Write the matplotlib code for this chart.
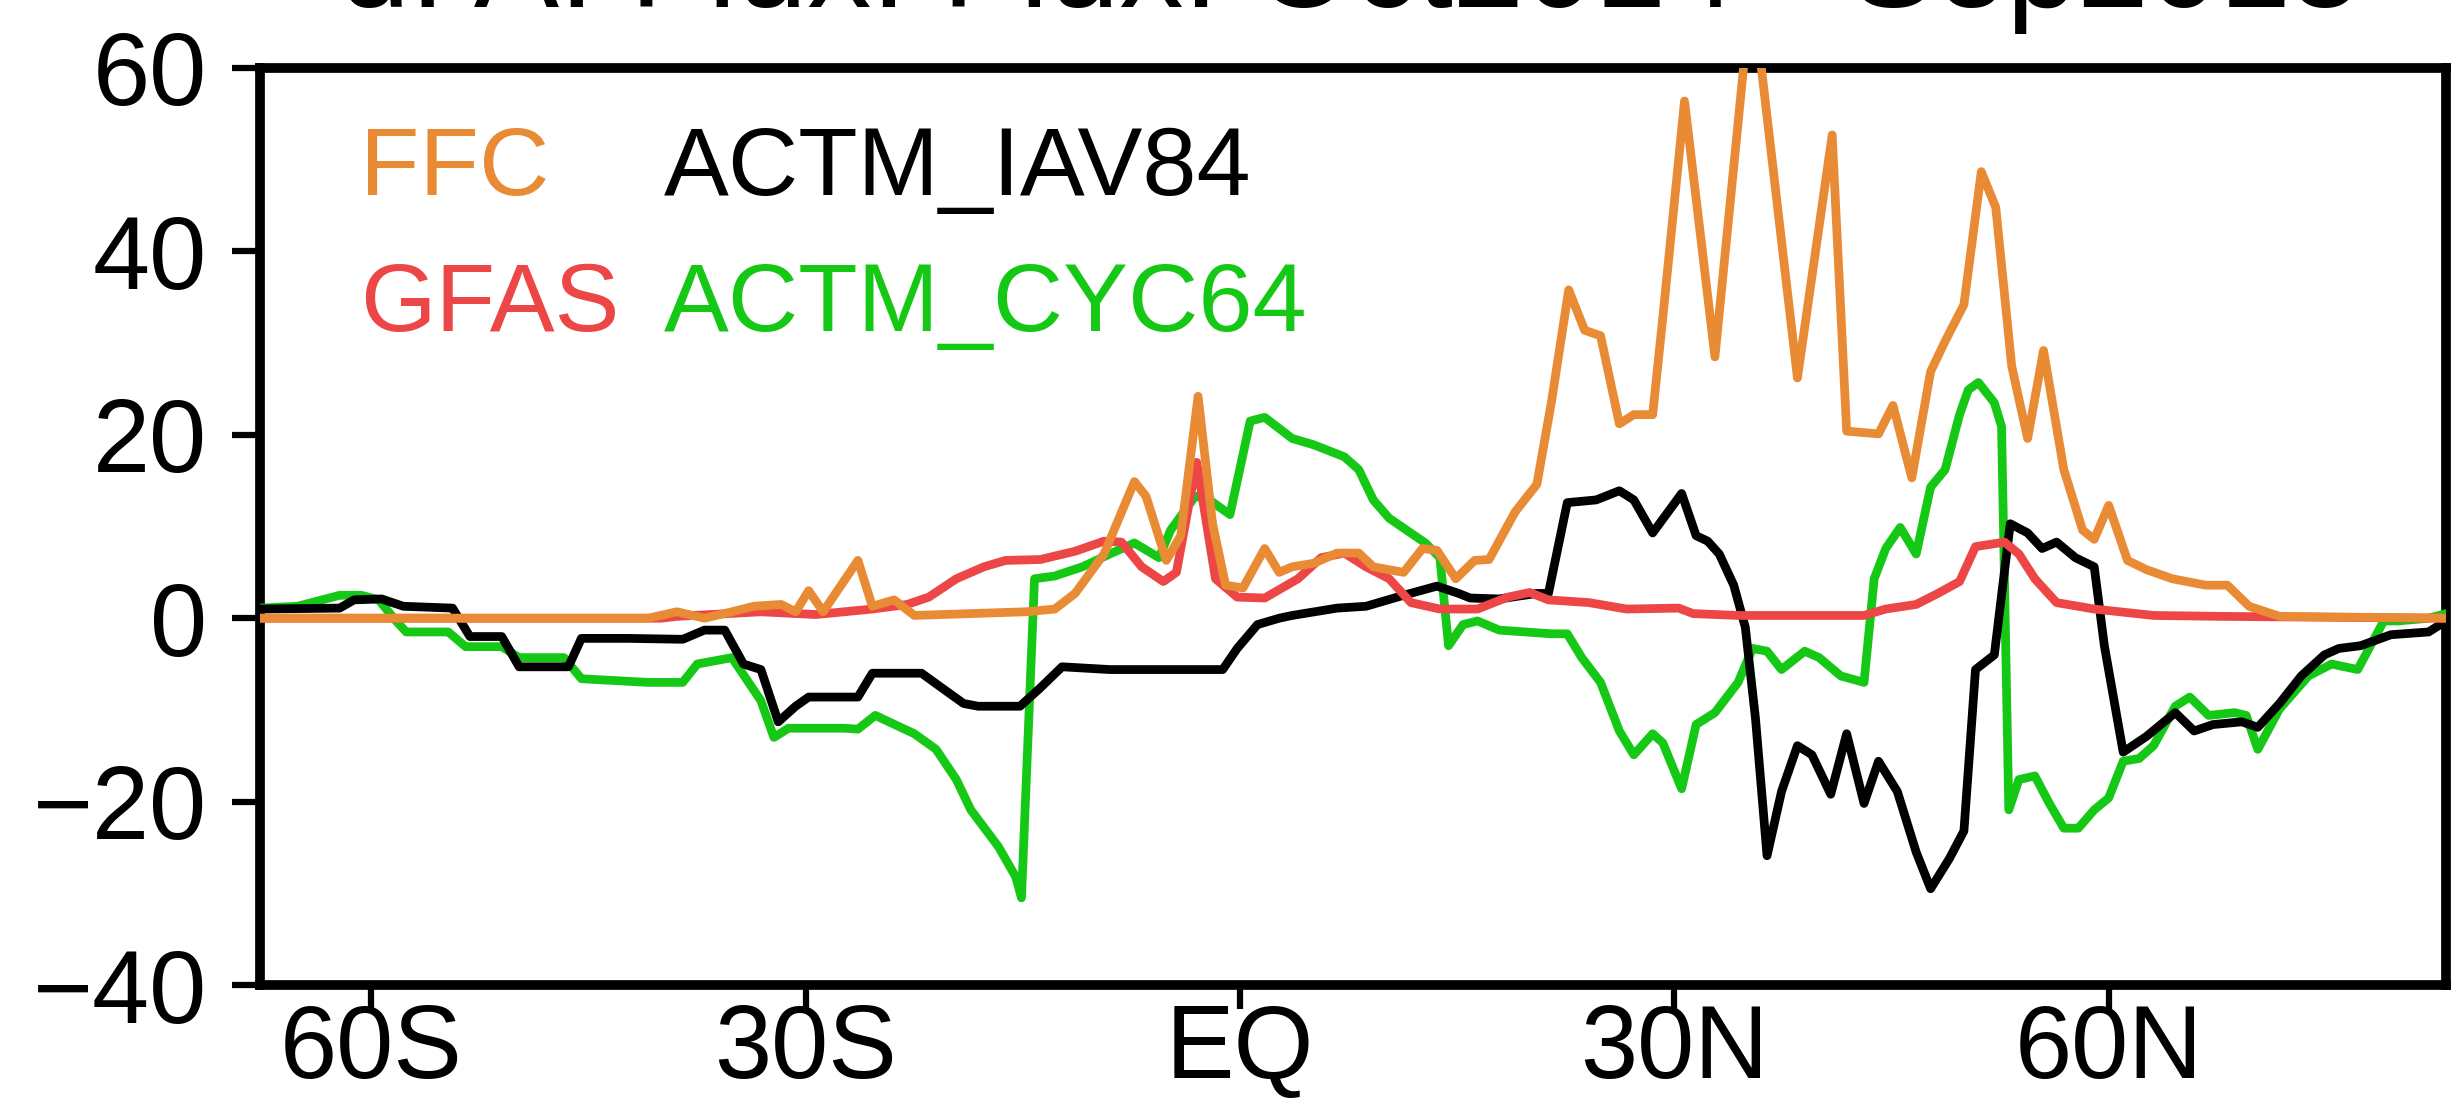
import matplotlib
matplotlib.use("Agg")
import matplotlib.pyplot as plt

plt.rcParams["font.family"] = ["Liberation Sans", "DejaVu Sans"]

# Zonal-mean flux profiles (latitude in degrees, negative = south)
ffc_lat = [-67.7, -40.9, -38.9, -37.0, -35.1, -33.6, -31.7, -30.7, -29.8, -28.8, -26.4, -25.4,
           -23.9, -22.5, -14.8, -12.8, -11.4, -9.4, -7.3, -6.5, -5.1, -4.1, -2.9, -1.9, -1.0,
           0.2, 1.7, 2.7, 3.6, 5.1, 6.7, 8.2, 9.2, 11.3, 12.6, 13.6, 14.9, 16.2, 17.2, 19.0,
           20.5, 21.5, 22.7, 23.8, 24.9, 26.2, 27.2, 28.5, 29.2, 30.7, 32.8, 34.9, 35.9, 38.5,
           40.9, 41.9, 44.1, 45.1, 46.4, 47.7, 48.7, 50.0, 51.2, 52.2, 53.3, 54.4, 55.5, 56.9,
           58.2, 59.0, 60.0, 61.3, 62.6, 64.4, 66.7, 68.2, 69.7, 71.8, 83.3]
ffc_val = [0.0, 0.0, 0.7, 0.0, 0.7, 1.3, 1.5, 0.7, 3.0, 0.7, 6.3, 1.3,
           2.0, 0.3, 0.7, 1.0, 2.7, 7.0, 14.9, 13.3, 6.3, 9.0, 24.2, 10.3, 3.6,
           3.3, 7.6, 5.0, 5.6, 6.0, 7.1, 7.1, 5.6, 5.0, 7.6, 7.4, 4.3, 6.3, 6.4, 11.6,
           14.6, 23.5, 35.8, 31.4, 30.8, 21.2, 22.2, 22.2, 32.8, 56.4, 28.5, 62.0, 61.5, 26.2,
           52.7, 20.4, 20.1, 23.2, 15.3, 26.9, 30.2, 34.2, 48.7, 44.8, 27.5, 19.6, 29.2, 16.2,
           9.6, 8.6, 12.3, 6.3, 5.3, 4.3, 3.6, 3.6, 1.3, 0.2, 0.0]

gfas_lat = [-67.7, -40.0, -38.9, -33.1, -29.3, -25.4, -23.0, -21.5, -19.6, -17.7, -16.2, -13.8,
            -11.4, -9.4, -8.2, -6.8, -5.3, -4.4, -3.0, -1.7, -0.2, 1.7, 4.0, 5.6, 7.2, 8.7,
            10.3, 11.8, 13.8, 16.4, 18.5, 20.0, 21.3, 24.1, 26.7, 30.3, 31.3, 34.4, 43.1, 44.6,
            46.7, 48.2, 49.7, 50.8, 52.8, 53.8, 54.9, 56.4, 59.0, 63.1, 67.7, 83.3]
gfas_val = [0.0, 0.0, 0.2, 0.7, 0.4, 1.0, 1.5, 2.3, 4.3, 5.6, 6.3, 6.4,
            7.3, 8.4, 8.3, 5.6, 4.0, 5.0, 17.0, 4.3, 2.3, 2.2, 4.3, 6.6, 7.1, 5.6,
            4.3, 1.7, 1.0, 1.0, 2.3, 2.8, 2.0, 1.7, 1.0, 1.1, 0.5, 0.3, 0.3, 1.0,
            1.5, 2.7, 4.0, 7.8, 8.3, 7.0, 4.3, 1.7, 1.0, 0.3, 0.2, 0.0]

iav84_lat = [-67.7, -62.2, -61.2, -59.3, -57.8, -54.4, -53.2, -51.0, -49.8, -46.4, -45.5, -42.3,
             -38.5, -37.0, -35.6, -34.3, -33.1, -31.9, -30.7, -29.8, -26.4, -25.4, -22.0, -20.6,
             -19.1, -18.1, -15.2, -13.8, -12.3, -9.0, -1.2, -0.2, 1.2, 2.7, 3.6, 6.7, 8.7, 11.3,
             13.6, 15.1, 15.9, 17.9, 20.5, 21.3, 22.6, 24.6, 26.2, 27.2, 28.5, 30.5, 31.5, 32.3,
             33.1, 34.1, 34.9, 35.6, 36.4, 37.4, 38.5, 39.5, 40.8, 41.9, 43.1, 44.1, 45.4, 46.7,
             47.7, 49.0, 50.0, 50.8, 52.1, 53.2, 54.4, 55.4, 56.4, 57.7, 59.0, 59.7, 61.0, 62.6,
             64.6, 65.9, 67.2, 69.2, 70.3, 71.8, 73.3, 74.9, 75.9, 77.4, 79.5, 82.1, 83.3]
iav84_val = [1.0, 1.1, 2.0, 2.1, 1.3, 1.1, -2.0, -2.0, -5.3, -5.3, -2.2, -2.2,
             -2.3, -1.3, -1.3, -5.0, -5.6, -11.3, -9.6, -8.6, -8.6, -6.0, -6.0, -7.6,
             -9.3, -9.6, -9.6, -7.6, -5.3, -5.6, -5.6, -3.3, -0.7, 0.0, 0.3, 1.1, 1.3, 2.5,
             3.5, 2.7, 2.2, 2.1, 2.7, 2.7, 12.6, 12.9, 13.9, 12.9, 9.3, 13.6, 9.0, 8.4,
             7.0, 3.6, -1.0, -10.9, -25.9, -18.9, -13.9, -14.9, -19.2, -12.6, -20.2, -15.6, -18.9, -25.5,
             -29.5, -26.2, -23.2, -5.6, -4.0, 10.3, 9.3, 7.6, 8.3, 6.6, 5.6, -3.0, -14.6, -12.9,
             -10.3, -12.3, -11.6, -11.3, -11.9, -9.3, -6.3, -4.0, -3.3, -3.0, -1.8, -1.5, -0.3]

cyc64_lat = [-67.7, -65.1, -62.2, -60.7, -59.5, -58.3, -57.6, -54.7, -53.5, -51.0, -49.8, -46.7,
             -45.5, -40.9, -38.5, -37.5, -35.1, -33.1, -32.2, -31.2, -27.3, -26.4, -25.2, -22.5,
             -21.0, -19.6, -18.6, -16.7, -15.5, -15.1, -14.2, -12.8, -10.9, -9.0, -7.3, -5.6,
             -4.8, -3.1, -2.2, -0.7, 0.7, 1.7, 3.6, 5.1, 7.2, 8.2, 9.2, 10.3, 12.8, 13.8, 14.4,
             15.4, 16.4, 17.9, 21.5, 22.6, 23.6, 24.9, 26.2, 27.2, 28.5, 29.2, 30.5, 31.5, 32.8,
             34.4, 35.4, 36.4, 37.4, 39.0, 40.0, 41.5, 43.1, 43.8, 44.6, 45.6, 46.7, 47.7, 48.7,
             49.7, 50.3, 51.0, 52.1, 52.6, 53.1, 53.8, 54.9, 55.9, 56.9, 57.9, 59.0, 60.0, 61.0,
             62.1, 63.1, 64.6, 65.6, 66.9, 68.7, 69.5, 70.3, 71.8, 73.8, 75.4, 77.2, 79.0, 80.0,
             82.1, 83.3]
cyc64_val = [1.1, 1.3, 2.5, 2.5, 2.0, -0.3, -1.5, -1.5, -3.1, -3.1, -4.3, -4.3,
             -6.6, -7.0, -7.0, -5.0, -4.3, -9.0, -13.0, -12.0, -12.0, -12.1, -10.6, -12.6,
             -14.3, -17.6, -20.9, -24.9, -28.2, -30.5, 4.3, 4.6, 5.6, 7.0, 8.2, 6.6,
             9.6, 13.3, 13.0, 11.3, 21.5, 21.9, 19.6, 18.9, 17.6, 16.2, 12.9, 10.9, 8.2, 6.6, -3.0,
             -0.7, -0.3, -1.3, -1.7, -1.7, -4.3, -7.0, -12.3, -14.9, -12.6, -13.6, -18.6, -11.6, -10.3,
             -7.0, -3.3, -3.6, -5.6, -3.6, -4.3, -6.3, -7.0, 4.3, 7.6, 9.9, 7.0, 14.3, 16.2,
             22.2, 24.9, 25.7, 23.5, 20.9, -20.9, -17.6, -17.2, -20.2, -22.9, -22.9, -20.9, -19.6, -15.6,
             -15.3, -13.9, -9.6, -8.6, -10.6, -10.3, -10.6, -14.3, -9.9, -6.3, -5.0, -5.6, -0.3, -0.3,
             0.0, 0.5]

series_names = ["FFC", "GFAS", "ACTM_IAV84", "ACTM_CYC64"]
series_colors = ["#E98A35", "#EC4646", "#000000", "#16C816"]

lat_ticks = [-60, -30, 0, 30, 60]
lat_labels = ["60S", "30S", "EQ", "30N", "60N"]
val_ticks = [-40, -20, 0, 20, 40, 60]

title_text = "d. A. Flux: Flux: Oct2014 - Sep2015"

W, H = 2451, 1104
fig = plt.figure(figsize=(W / 100, H / 100), dpi=100)
ax = fig.add_axes([260 / W, 1 - 985 / H, (2446 - 260) / W, (985 - 68) / H])

lw = 6.3
ax.plot(cyc64_lat, cyc64_val, color=series_colors[3], lw=lw, zorder=3)
ax.plot(iav84_lat, iav84_val, color=series_colors[2], lw=lw, zorder=4)
ax.plot(gfas_lat, gfas_val, color=series_colors[1], lw=lw, zorder=5)
ax.plot(ffc_lat, ffc_val, color=series_colors[0], lw=lw, zorder=6)

ax.set_xlim(-67.7, 83.3)
ax.set_ylim(-40, 60)
ax.set_xticks(lat_ticks)
ax.set_xticklabels(lat_labels)
ax.set_yticks(val_ticks)

for s in ax.spines.values():
    s.set_linewidth(7)
ax.tick_params(axis="y", direction="out", length=20, width=4.5, pad=18, labelsize=74)
ax.tick_params(axis="x", direction="out", length=17, width=4.5, pad=-4, labelsize=74)

# Series names written in their line colours
leg_x = [360 / W, 664 / W]
leg_y = [1 - 195 / H, 1 - 331 / H]
order = [(0, 0, 0), (1, 0, 1), (2, 1, 0), (3, 1, 1)]
for idx, col, row in order:
    fig.text(leg_x[col], leg_y[row], series_names[idx], color=series_colors[idx],
             fontsize=70, ha="left", va="baseline")

# Heading sits mostly above the top edge of the canvas
fig.text(0.551, 1 - 7 / H, title_text, fontsize=92, ha="center", va="baseline")

fig.savefig("out.png", dpi=100, facecolor="white")
